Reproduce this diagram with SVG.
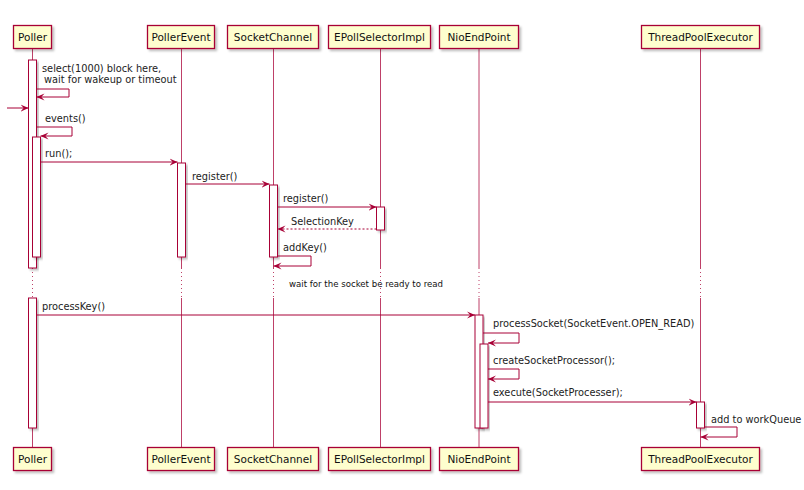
<svg xmlns="http://www.w3.org/2000/svg" width="804" height="490" viewBox="0 0 804 490">
<style>
.pbox{fill:#FEFECE;stroke:#A80036;stroke-width:1.3}
.pt{font-family:"DejaVu Sans",sans-serif;font-size:10.5px;fill:#111;text-anchor:middle}
.life{stroke:#A80036;stroke-width:1;stroke-opacity:0.75;fill:none}
.dot{stroke:#A80036;stroke-width:1;stroke-opacity:0.75;stroke-dasharray:1,3;fill:none}
.act{fill:#FFFFFF;stroke:#A80036;stroke-width:1}
.msg{stroke:#A80036;stroke-width:1;fill:none;marker-end:url(#ah)}
.ret{stroke:#A80036;stroke-width:1;fill:none;stroke-dasharray:2,2;marker-end:url(#ah)}
.mt{font-family:"DejaVu Sans",sans-serif;font-size:9.8px;fill:#222}
.dt{font-family:"DejaVu Sans",sans-serif;font-size:8.6px;fill:#111}
</style>
<defs>
<marker id="ah" markerUnits="userSpaceOnUse" viewBox="0 0 10 10" refX="10" refY="5" markerWidth="8" markerHeight="8" orient="auto">
<path d="M0,0.5 L10,5 L0,9.5 L4,5 z" fill="#A80036"/>
</marker>
<filter id="sh" x="-10%" y="-20%" width="130%" height="160%">
<feDropShadow dx="2" dy="2" stdDeviation="1.2" flood-color="#000" flood-opacity="0.25"/>
</filter>
</defs>
<rect width="804" height="490" fill="#FFFFFF"/>

<g id="lifelines">
<path class="life" d="M32.5,48V268M32.5,298V447"/><path class="dot" d="M32.5,268V298"/>
<path class="life" d="M181.5,48V268M181.5,298V447"/><path class="dot" d="M181.5,268V298"/>
<path class="life" d="M273.5,48V268M273.5,298V447"/><path class="dot" d="M273.5,268V298"/>
<path class="life" d="M380.5,48V268M380.5,298V447"/><path class="dot" d="M380.5,268V298"/>
<path class="life" d="M479,48V268M479,298V447"/><path class="dot" d="M479,268V298"/>
<path class="life" d="M700.5,48V268M700.5,298V447"/><path class="dot" d="M700.5,268V298"/>
</g>

<g id="activations">
<rect class="act" x="28.5" y="60" width="8" height="208" filter="url(#sh)"/>
<rect class="act" x="32.5" y="137" width="8" height="120" filter="url(#sh)"/>
<rect class="act" x="28.5" y="298" width="8" height="130" filter="url(#sh)"/>
<rect class="act" x="177.5" y="163" width="8" height="94" filter="url(#sh)"/>
<rect class="act" x="269.5" y="185" width="8" height="72" filter="url(#sh)"/>
<rect class="act" x="376.5" y="207" width="8" height="23" filter="url(#sh)"/>
<rect class="act" x="475" y="315" width="8" height="113" filter="url(#sh)"/>
<rect class="act" x="480" y="344" width="8" height="84" filter="url(#sh)"/>
<rect class="act" x="696.5" y="402" width="8" height="26" filter="url(#sh)"/>
</g>

<g id="participants">
<g id="p-poller">
<rect class="pbox" x="13.5" y="25.5" width="38" height="23" filter="url(#sh)"/>
<text class="pt" x="32.5" y="40.5">Poller</text>
<rect class="pbox" x="13.5" y="447.5" width="38" height="23" filter="url(#sh)"/>
<text class="pt" x="32.5" y="462.5">Poller</text>
</g>
<g id="p-pollerevent">
<rect class="pbox" x="147.5" y="25.5" width="67" height="23" filter="url(#sh)"/>
<text class="pt" x="181" y="40.5">PollerEvent</text>
<rect class="pbox" x="147.5" y="447.5" width="67" height="23" filter="url(#sh)"/>
<text class="pt" x="181" y="462.5">PollerEvent</text>
</g>
<g id="p-socketchannel">
<rect class="pbox" x="227.5" y="25.5" width="91" height="23" filter="url(#sh)"/>
<text class="pt" x="273" y="40.5">SocketChannel</text>
<rect class="pbox" x="227.5" y="447.5" width="91" height="23" filter="url(#sh)"/>
<text class="pt" x="273" y="462.5">SocketChannel</text>
</g>
<g id="p-epoll">
<rect class="pbox" x="328.5" y="25.5" width="102" height="23" filter="url(#sh)"/>
<text class="pt" x="379.5" y="40.5">EPollSelectorImpl</text>
<rect class="pbox" x="328.5" y="447.5" width="102" height="23" filter="url(#sh)"/>
<text class="pt" x="379.5" y="462.5">EPollSelectorImpl</text>
</g>
<g id="p-nioendpoint">
<rect class="pbox" x="439.5" y="25.5" width="79" height="23" filter="url(#sh)"/>
<text class="pt" x="479" y="40.5">NioEndPoint</text>
<rect class="pbox" x="439.5" y="447.5" width="79" height="23" filter="url(#sh)"/>
<text class="pt" x="479" y="462.5">NioEndPoint</text>
</g>
<g id="p-threadpool">
<rect class="pbox" x="641.5" y="25.5" width="118" height="23" filter="url(#sh)"/>
<text class="pt" x="700.5" y="40.5">ThreadPoolExecutor</text>
<rect class="pbox" x="641.5" y="447.5" width="118" height="23" filter="url(#sh)"/>
<text class="pt" x="700.5" y="462.5">ThreadPoolExecutor</text>
</g>
</g>

<g id="connectors">
<path class="msg" d="M36.5,89H69V97H36.5"/>
<path class="msg" d="M7,108H28.5"/>
<path class="msg" d="M36.5,127H72V136H40.5"/>
<path class="msg" d="M40.5,162H177.5"/>
<path class="msg" d="M185.5,184H269.5"/>
<path class="msg" d="M277.5,207H376.5"/>
<path class="ret" d="M376.5,229H277.5"/>
<path class="msg" d="M277.5,256H311V266H273.5"/>
<path class="msg" d="M36.5,315H475"/>
<path class="msg" d="M483,333H519V343H488"/>
<path class="msg" d="M488,369H519V379H488"/>
<path class="msg" d="M488,402H696.5"/>
<path class="msg" d="M704.5,427H737V437H700.5"/>
</g>

<g id="labels">
<text class="mt" x="42" y="72">select(1000) block here,</text>
<text class="mt" x="44" y="83">wait for wakeup or timeout</text>
<text class="mt" x="45" y="122">events()</text>
<text class="mt" x="45" y="157">run();</text>
<text class="mt" x="192" y="180">register()</text>
<text class="mt" x="283" y="202">register()</text>
<text class="mt" x="291" y="225">SelectionKey</text>
<text class="mt" x="283" y="251">addKey()</text>
<text class="dt" x="289" y="287">wait for the socket be ready to read</text>
<text class="mt" x="42" y="310">processKey()</text>
<text class="mt" x="493" y="327">processSocket(SocketEvent.OPEN_READ)</text>
<text class="mt" x="493" y="364">createSocketProcessor();</text>
<text class="mt" x="493" y="396">execute(SocketProcesser);</text>
<text class="mt" x="711" y="423">add to workQueue</text>
</g>
</svg>
